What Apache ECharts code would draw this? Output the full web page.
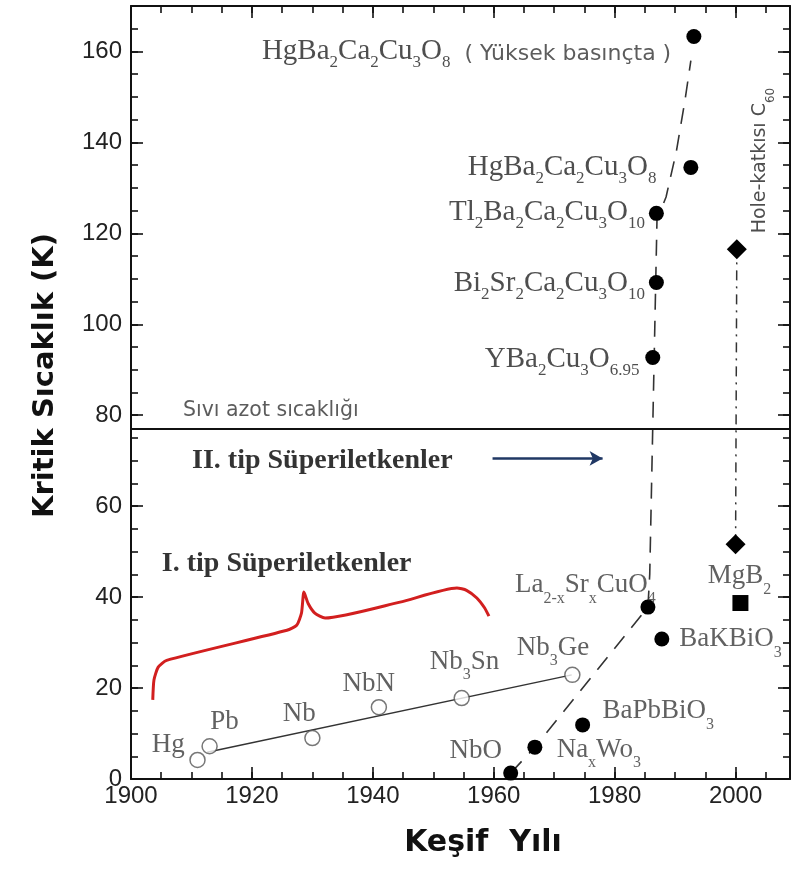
<!DOCTYPE html>
<html><head><meta charset="utf-8">
<script src="https://cdn.jsdelivr.net/npm/echarts@6/dist/echarts.min.js"></script>
<style>html,body{margin:0;padding:0;background:#fff}#c{width:794px;height:877px}</style>
</head><body><div id="c"></div>
<script>
// ---- data (year of discovery, critical temperature K) ----
const typeIYears = [1911, 1913, 1930, 1941, 1954.7, 1973];
const typeITc    = [4.2, 7.2, 9.0, 15.8, 17.8, 22.9];
const typeIFitYears = [1912.6, 1972.9];
const typeIFitTc    = [5.9, 22.9];

const typeIIYears = [1962.8, 1966.8, 1974.7, 1985.5, 1987.8, 1986.3, 1986.9, 1986.9, 1992.6, 1993.1];
const typeIITc    = [1.3, 7.0, 11.9, 37.8, 30.8, 92.7, 109.2, 124.4, 134.5, 163.3];

const trendYears = [1962.8, 1966.8, 1985.5, 1985.8, 1987.0, 1988.5, 1990.2, 1991.6, 1992.6];
const trendTc    = [1.3, 7.0, 37.8, 45, 123, 128, 138, 149, 158];

const diamondYears = [2000.0, 2000.2];
const diamondTc    = [51.6, 116.5];
const squareYears  = [2000.8];
const squareTc     = [38.7];

const nitrogenTc = 77;
const arrowYears = [1959.8, 1978.0];
const arrowTc    = [70.5, 70.5];

const braceYears = [1903.6, 1903.8, 1904.5, 1905.9, 1925.8, 1927.4, 1928.2, 1928.6, 1929.3, 1930.4, 1932.1, 1944.5, 1953.9, 1955.5, 1957.2, 1958.5, 1959.2];
const braceTc    = [17.4, 21.8, 24.6, 26.1, 32.7, 33.8, 36.5, 41.1, 38.6, 36.5, 35.4, 38.9, 42.0, 41.5, 39.8, 37.6, 35.8];

// annotations: text, anchor year, anchor Tc, kind
const annoText = ['HgBa_2Ca_2Cu_3O_8 ( Yüksek basınçta )', 'HgBa_2Ca_2Cu_3O_8', 'Tl_2Ba_2Ca_2Cu_3O_{10}', 'Bi_2Sr_2Ca_2Cu_3O_{10}', 'YBa_2Cu_3O_{6.95}',
  'Hg', 'Pb', 'Nb', 'NbN', 'Nb_3Sn', 'Nb_3Ge', 'La_{2-x}Sr_xCuO_4', 'MgB_2', 'BaKBiO_3', 'BaPbBiO_3', 'NbO', 'Na_xWo_3',
  'Sıvı azot sıcaklığı', 'II. tip Süperiletkenler', 'I. tip Süperiletkenler', 'Hole-katkısı C_{60}'];
const annoYear = [1921.65, 1986.9, 1985.0, 1985.0, 1984.1,
  1908.9, 1913.1, 1925.1, 1935.0, 1949.4, 1963.8, 1963.5, 1995.4, 1990.7, 1978.0, 1952.7, 1970.4,
  1908.6, 1910.1, 1905.1, 2004.6];
const annoTc = [159.4, 133.9, 124.0, 108.4, 91.7,
  6.7, 11.7, 13.5, 20.1, 24.9, 28.0, 41.8, 43.8, 29.9, 14.1, 5.3, 5.6,
  80.9, 69.9, 47.3, 136];
const annoKind = ['upL', 'upR', 'upR', 'upR', 'upR',
  'loR', 'loL', 'loL', 'loL', 'loL', 'loL', 'loL', 'loL', 'loL', 'loL', 'loL', 'loL',
  'sans', 'bold', 'bold', 'rot'];

const xTicksMajor = 20, xTicksMinor = 5;
const yTicksMajor = 20, yTicksMinor = 5;

// ---- helpers ----
function formula(str, main, sub) {
  let out = '';
  const re = /_\{([^}]*)\}|_(.)|([^_]+)/g;
  let m;
  while ((m = re.exec(str)) !== null) {
    if (m[3] !== undefined) out += '{' + main + '|' + m[3] + '}';
    else out += '{' + sub + '|' + (m[1] !== undefined ? m[1] : m[2]) + '}';
  }
  return out;
}
const SERIF = 'Liberation Serif';
const SANS = 'DejaVu Sans';
const rich = {
  u:  {fontFamily: SERIF, fontSize: 29, color: '#222', lineHeight: 34, verticalAlign: 'top'},
  us: {fontFamily: SERIF, fontSize: 17, color: '#222', verticalAlign: 'bottom'},
  up: {fontFamily: SANS, fontSize: 22, color: '#333', verticalAlign: 'middle'},
  l:  {fontFamily: SERIF, fontSize: 27, color: '#3a3a3a', lineHeight: 35, verticalAlign: 'top'},
  ls: {fontFamily: SERIF, fontSize: 16, color: '#3a3a3a', verticalAlign: 'bottom'},
  r:  {fontFamily: SANS, fontSize: 19, color: '#222', lineHeight: 26, verticalAlign: 'top'},
  rs: {fontFamily: SANS, fontSize: 12, color: '#222', verticalAlign: 'bottom'}
};
function annoItem(i) {
  const kind = annoKind[i], t = annoText[i];
  const base = {value: [annoYear[i], annoTc[i]]};
  let label;
  if (kind === 'upL' || kind === 'upR') {
    const sp = t.indexOf(' ');
    let s = formula(sp < 0 ? t : t.slice(0, sp), 'u', 'us');
    if (sp >= 0) s += '{up|  ' + t.slice(sp + 1) + '}';
    label = {formatter: s, position: kind === 'upL' ? 'right' : 'left'};
  } else if (kind === 'loL' || kind === 'loR') {
    label = {formatter: formula(t, 'l', 'ls'), position: kind === 'loL' ? 'right' : 'left'};
  } else if (kind === 'sans') {
    label = {formatter: t, position: 'right', fontFamily: SANS, fontSize: 20.5, color: '#333'};
  } else if (kind === 'bold') {
    label = {formatter: t, position: 'right', fontFamily: SERIF, fontWeight: 'bold', fontSize: 28, color: '#000'};
  } else {
    label = {formatter: formula(t, 'r', 'rs'), position: 'inside', rotate: 90, align: 'center', verticalAlign: 'middle'};
  }
  label.show = true; label.distance = 0; label.rich = rich;
  base.label = label;
  return base;
}
const zip = (a, b) => a.map((v, i) => [v, b[i]]);

const frame = {color: '#111', width: 2};
function xAx(pos, interval, len, main) {
  return {
    type: 'value', min: 1900, max: 2009, interval: interval, position: pos,
    axisLine: {show: main, onZero: false, lineStyle: frame},
    axisTick: {show: true, inside: true, length: len, lineStyle: {color: '#111', width: 1.6}},
    axisLabel: {show: main && pos === 'bottom', showMaxLabel: false, formatter: v => String(v),
      fontFamily: 'Liberation Sans', fontSize: 24, color: '#222', margin: 5},
    splitLine: {show: false}
  };
}
function yAx(pos, interval, len, main) {
  return {
    type: 'value', min: 0, max: 170, interval: interval, position: pos,
    axisLine: {show: main, onZero: false, lineStyle: frame},
    axisTick: {show: true, inside: true, length: len, lineStyle: {color: '#111', width: 1.6}},
    axisLabel: {show: main && pos === 'left', showMaxLabel: false, formatter: v => String(v),
      fontFamily: 'Liberation Sans', fontSize: 24, color: '#222', margin: 9},
    splitLine: {show: false}
  };
}
const xAxes = [xAx('bottom', xTicksMajor, 12, true), xAx('bottom', xTicksMinor, 7, false), xAx('top', xTicksMajor, 12, true), xAx('top', xTicksMinor, 7, false)];
xAxes[0].name = 'Keşif  Yılı';
xAxes[0].nameLocation = 'middle';
xAxes[0].nameGap = 49;
xAxes[0].nameTextStyle = {fontFamily: SANS, fontWeight: 'bold', fontSize: 30, color: '#111', padding: [0, 0, 0, 45]};
const yAxes = [yAx('left', yTicksMajor, 12, true), yAx('left', yTicksMinor, 7, false), yAx('right', yTicksMajor, 12, true), yAx('right', yTicksMinor, 7, false)];
yAxes[0].name = 'Kritik Sıcaklık (K)';
yAxes[0].nameLocation = 'middle';
yAxes[0].nameGap = 71;
yAxes[0].nameTextStyle = {fontFamily: SANS, fontWeight: 'bold', fontSize: 29, color: '#111', padding: [0, 0, 0, 34]};

const chart = echarts.init(document.getElementById('c'), null, {renderer: 'canvas'});
chart.setOption({
  animation: false,
  backgroundColor: '#fff',
  grid: {left: 131, right: 4, top: 6, bottom: 98, containLabel: false},
  xAxis: xAxes,
  yAxis: yAxes,
  series: [
    {type: 'line', data: zip(braceYears, braceTc), symbol: 'none', smooth: 0.2, lineStyle: {color: '#d21f1f', width: 3}, z: 2},
    {type: 'line', data: zip(typeIFitYears, typeIFitTc), symbol: 'none', lineStyle: {color: '#333', width: 1.5}, z: 2},
    {type: 'scatter', data: zip(typeIYears, typeITc), symbol: 'circle', symbolSize: 15,
      itemStyle: {color: '#fff', borderColor: '#555', borderWidth: 1.5}, z: 4},
    {type: 'line', data: zip(trendYears, trendTc), symbol: 'none', lineStyle: {color: '#333', width: 1.6, type: [16, 11]}, z: 2},
    {type: 'line', data: zip(diamondYears, diamondTc), symbol: 'none', lineStyle: {color: '#333', width: 1.5, type: [10, 6, 2, 6]}, z: 2},
    {type: 'scatter', data: zip(typeIIYears, typeIITc), symbol: 'circle', symbolSize: 15, itemStyle: {color: '#000', opacity: 1}, z: 5,
      markLine: {
        silent: true, animation: false, symbol: ['none', 'none'], label: {show: false},
        data: [
          {yAxis: nitrogenTc, lineStyle: {color: '#111', width: 2, type: 'solid'}},
          [{coord: [arrowYears[0], arrowTc[0]], symbol: 'none', lineStyle: {color: '#203864', width: 2.5, type: 'solid'}},
           {coord: [arrowYears[1], arrowTc[1]], symbol: 'arrow', symbolSize: [11, 13]}]
        ]
      }},
    {type: 'scatter', data: zip(diamondYears, diamondTc), symbol: 'diamond', symbolSize: [20, 20], itemStyle: {color: '#000', opacity: 1}, z: 5},
    {type: 'scatter', data: zip(squareYears, squareTc), symbol: 'rect', symbolSize: 16, itemStyle: {color: '#000', opacity: 1}, z: 5},
    {type: 'scatter', data: annoText.map((_, i) => annoItem(i)), symbolSize: 0, silent: true, z: 6}
  ]
});
</script></body></html>
